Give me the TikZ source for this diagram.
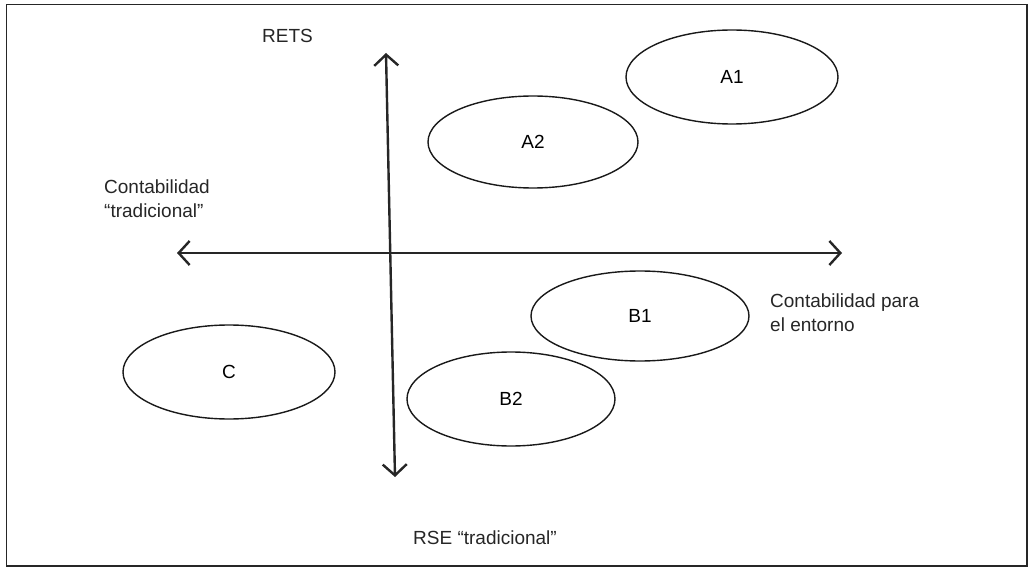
\documentclass[tikz,border=0pt]{standalone}
\usepackage{fontspec}
\setmainfont{Liberation Sans}
\usetikzlibrary{arrows.meta,shapes.geometric}
\begin{document}
\begin{tikzpicture}[x=1pt,y=-1pt,
  oval/.style={draw=black!90,line width=1.4pt,ellipse,minimum width=212pt,minimum height=94pt,inner sep=0pt,font=\fontsize{19}{23}\selectfont},
  lbl/.style={anchor=base west,inner sep=0pt,align=left,font=\fontsize{19}{23.5}\selectfont,text=black!85},
  axis/.style={line width=2.4pt,draw=black!85,{Straight Barb[length=11pt,width=24pt,line width=2.4pt]}-{Straight Barb[length=11pt,width=24pt,line width=2.4pt]}}]
\useasboundingbox (0,0) rectangle (1029,567);
\draw[line width=1.6pt,draw=black!85] (6.5,4.5) rectangle (1027,566);
\coordinate (hl) at (177,253);
\coordinate (hr) at (842,253);
\coordinate (vt) at (386,53);
\coordinate (vb) at (395,477);
\draw[axis] (hl) -- (hr);
\draw[axis] (vt) -- (vb);
\node[oval] (A1) at (732,77) {A1};
\node[oval,minimum width=210pt,minimum height=92pt] (A2) at (533,142) {A2};
\node[oval,minimum width=218pt,minimum height=90pt] (B1) at (640,316) {B1};
\node[oval,minimum width=208pt,minimum height=94pt] (B2) at (511,399) {B2};
\node[oval] (C) at (229,372) {C};
\node[lbl] (rets) at (262,43) {RETS};
\node[lbl,anchor=north west] (ct) at (104,180) {Contabilidad\\“tradicional”};
\node[lbl,anchor=north west] (ce) at (770,294) {Contabilidad para\\el entorno};
\node[lbl] (rse) at (413,544) {RSE “tradicional”};
\end{tikzpicture}
\end{document}
